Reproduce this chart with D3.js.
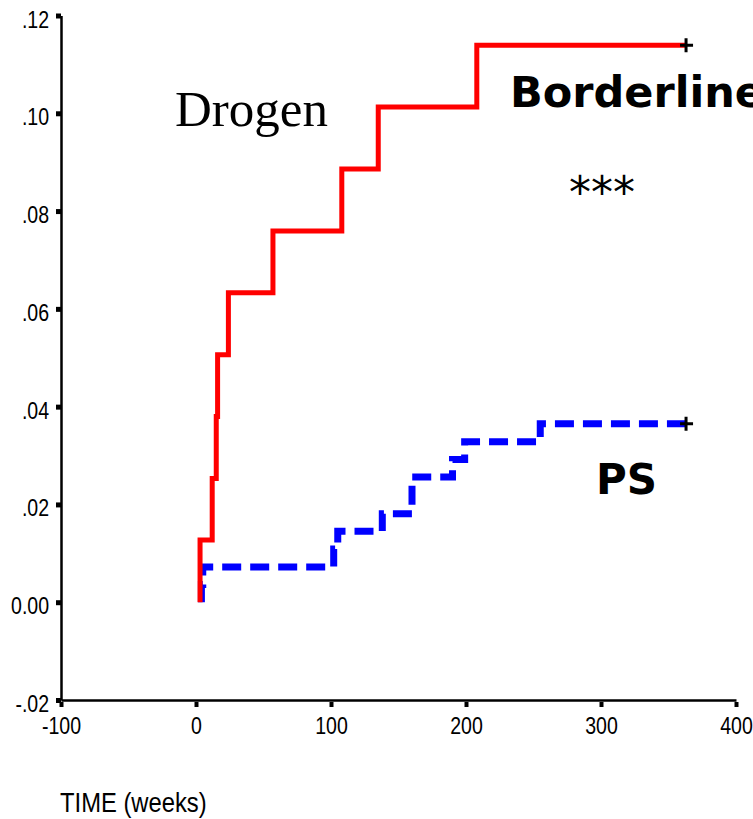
<!DOCTYPE html>
<html>
<head>
<meta charset="utf-8">
<script src="https://cdn.jsdelivr.net/npm/d3@7"></script>
<style>
  body { margin: 0; background: #fff; }
  .tick text { font-family: "Liberation Sans", Arial, sans-serif; fill: #000; }
</style>
</head>
<body>
<div id="vis"></div>
<script>
// frame
const FRAME_WIDTH = 753;
const FRAME_HEIGHT = 819;

// data: cumulative incidence step curves (time in weeks)
const BORDER_T = [3, 3, 12, 15, 16, 24, 57, 108, 135, 208, 363];
const BORDER_Y = [0, 0.0127, 0.0253, 0.0380, 0.0506, 0.0633, 0.0759, 0.0886, 0.1013, 0.1139, 0.1139];
const PS_T = [4, 4, 5, 102, 105, 138, 160, 190, 199, 255, 363];
const PS_Y = [0, 0.0036, 0.0072, 0.0109, 0.0145, 0.0181, 0.0256, 0.0292, 0.0328, 0.0365, 0.0365];

// axis ticks
const X_TICKS = [-100, 0, 100, 200, 300, 400];
const X_LABELS = ["-100", "0", "100", "200", "300", "400"];
const Y_TICKS = [-0.02, 0, 0.02, 0.04, 0.06, 0.08, 0.10, 0.12];
const Y_LABELS = ["-.02", "0.00", ".02", ".04", ".06", ".08", ".10", ".12"];

const X_SCALE = d3.scaleLinear().domain([-100, 400]).range([61, 736]);
const Y_SCALE = d3.scaleLinear().domain([-0.02, 0.12]).range([700, 15.5]);

const FRAME = d3.select("#vis")
                .append("svg")
                .attr("width", FRAME_WIDTH)
                .attr("height", FRAME_HEIGHT);

FRAME.append("rect")
     .attr("width", FRAME_WIDTH)
     .attr("height", FRAME_HEIGHT)
     .attr("fill", "#fff");

// x axis
const xAxis = FRAME.append("g")
    .attr("transform", "translate(0,700)")
    .call(d3.axisBottom(X_SCALE).tickValues(X_TICKS).tickSize(7).tickSizeOuter(0).tickPadding(11)
             .tickFormat((d, i) => X_LABELS[i]));
xAxis.select(".domain").attr("stroke-width", 2.5);
xAxis.selectAll(".tick line").attr("stroke-width", 4).attr("y1", 2);
xAxis.selectAll(".tick text")
     .attr("font-size", 23)
     .attr("transform", "scale(0.85,1)");

// y axis
const yAxis = FRAME.append("g")
    .attr("transform", "translate(61,0)")
    .call(d3.axisLeft(Y_SCALE).tickValues(Y_TICKS).tickSize(5).tickSizeOuter(0).tickPadding(9)
             .tickFormat((d, i) => Y_LABELS[i]));
yAxis.select(".domain").attr("stroke-width", 2.5);
yAxis.selectAll(".tick line").attr("stroke-width", 5);
yAxis.selectAll(".tick text")
     .attr("font-size", 23)
     .attr("dy", "0.5em")
     .attr("transform", "scale(0.85,1)");

// step lines
const stepLine = d3.line()
    .x((d) => X_SCALE(d[0]))
    .y((d) => Y_SCALE(d[1]))
    .curve(d3.curveStepAfter);

const borderData = BORDER_T.map((t, i) => [t, BORDER_Y[i]]);
const psData = PS_T.map((t, i) => [t, PS_Y[i]]);

FRAME.append("path")
     .datum(psData)
     .attr("d", stepLine)
     .attr("fill", "none")
     .attr("stroke", "#0000ff")
     .attr("stroke-width", 7)
     .attr("stroke-dasharray", "19,9");

FRAME.append("path")
     .datum(borderData)
     .attr("d", stepLine)
     .attr("fill", "none")
     .attr("stroke", "#ff0000")
     .attr("stroke-width", 5);

// censor marks at the end of each curve
[borderData[borderData.length - 1], psData[psData.length - 1]].forEach((d) => {
  const cx = X_SCALE(d[0]), cy = Y_SCALE(d[1]);
  FRAME.append("path")
       .attr("d", `M${cx - 6},${cy}H${cx + 7}M${cx},${cy - 7}V${cy + 7}`)
       .attr("stroke", "#000")
       .attr("stroke-width", 3);
});

// labels
FRAME.append("text")
     .attr("x", 175).attr("y", 126)
     .attr("font-family", "'Liberation Serif', 'Times New Roman', serif")
     .attr("font-size", 51)
     .text("Drogen");

// runs off the right edge, as in the source figure
FRAME.append("text")
     .attr("x", 510).attr("y", 107)
     .attr("font-family", "'DejaVu Sans', Verdana, sans-serif")
     .attr("font-weight", "bold")
     .attr("font-size", 43)
     .text("Borderline");

FRAME.append("text")
     .attr("x", 569).attr("y", 208)
     .attr("font-family", "'DejaVu Sans', Verdana, sans-serif")
     .attr("font-size", 44)
     .text("***");

FRAME.append("text")
     .attr("x", 596).attr("y", 494)
     .attr("font-family", "'DejaVu Sans', Verdana, sans-serif")
     .attr("font-weight", "bold")
     .attr("font-size", 42)
     .text("PS");

FRAME.append("text")
     .attr("x", 60 / 0.85).attr("y", 812)
     .attr("transform", "scale(0.85,1)")
     .attr("font-family", "'Liberation Sans', Arial, sans-serif")
     .attr("font-size", 28)
     .text("TIME (weeks)");
</script>
</body>
</html>
